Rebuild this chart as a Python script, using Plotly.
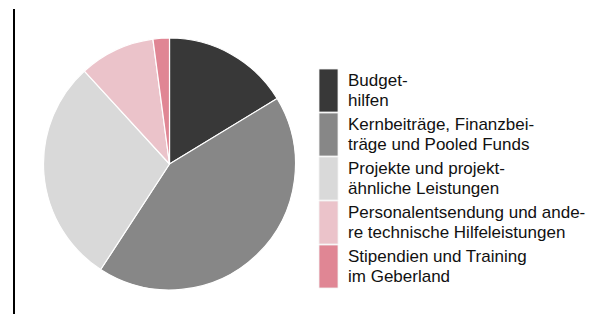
import plotly.graph_objects as go

W, H = 598, 314
OFF = 8  # page body margin in the browser

categories = [
    "Budget-<br>hilfen",
    "Kernbeiträge, Finanzbei-<br>träge und Pooled Funds",
    "Projekte und projekt-<br>ähnliche Leistungen",
    "Personalentsendung und ande-<br>re technische Hilfeleistungen",
    "Stipendien und Training<br>im Geberland",
]
values = [16.3, 42.9, 29.0, 9.7, 2.1]
colors = ["#383838", "#878787", "#d9d9d9", "#ebc3ca", "#e08694"]

FONT = "Liberation Sans, Arial, sans-serif"

def px(x):
    return (x - OFF) / W

def py(y):
    return 1 - (y - OFF) / H

fig = go.Figure()
fig.add_trace(go.Pie(
    labels=[c.replace("<br>", " ") for c in categories],
    values=values,
    marker=dict(colors=colors, line=dict(color="white", width=1.2)),
    sort=False,
    direction="clockwise",
    rotation=0,
    textinfo="none",
    hoverinfo="label+percent",
    showlegend=False,
    domain=dict(x=[px(43), px(296)], y=[py(290), py(38)]),
))

shapes = []
annotations = []
# vertical rule at left
shapes.append(dict(type="line", xref="paper", yref="paper",
                   x0=px(14), x1=px(14), y0=0, y1=py(9),
                   line=dict(color="black", width=2)))

box_top = 69
box_h = 44
for i, (lab, col) in enumerate(zip(categories, colors)):
    y0 = box_top + i * box_h
    y1 = y0 + box_h - 1
    shapes.append(dict(type="rect", xref="paper", yref="paper",
                       x0=px(319), x1=px(338), y0=py(y1), y1=py(y0),
                       fillcolor=col, line=dict(color="#f2f2f2", width=0.8)))
    lines = lab.split("<br>")
    cy = (y0 + y1) / 2
    n = len(lines)
    for j, ln in enumerate(lines):
        ly = cy + (j - (n - 1) / 2) * 19.5
        annotations.append(dict(xref="paper", yref="paper", x=px(346), y=py(ly),
                                text=ln, showarrow=False, xanchor="left", yanchor="middle",
                                font=dict(family=FONT, size=17, color="#111111")))

fig.update_layout(
    width=W, height=H,
    margin=dict(l=0, r=0, t=0, b=0),
    paper_bgcolor="white",
    plot_bgcolor="white",
    shapes=shapes,
    annotations=annotations,
    font=dict(family=FONT),
)

fig.write_html("out.html")
